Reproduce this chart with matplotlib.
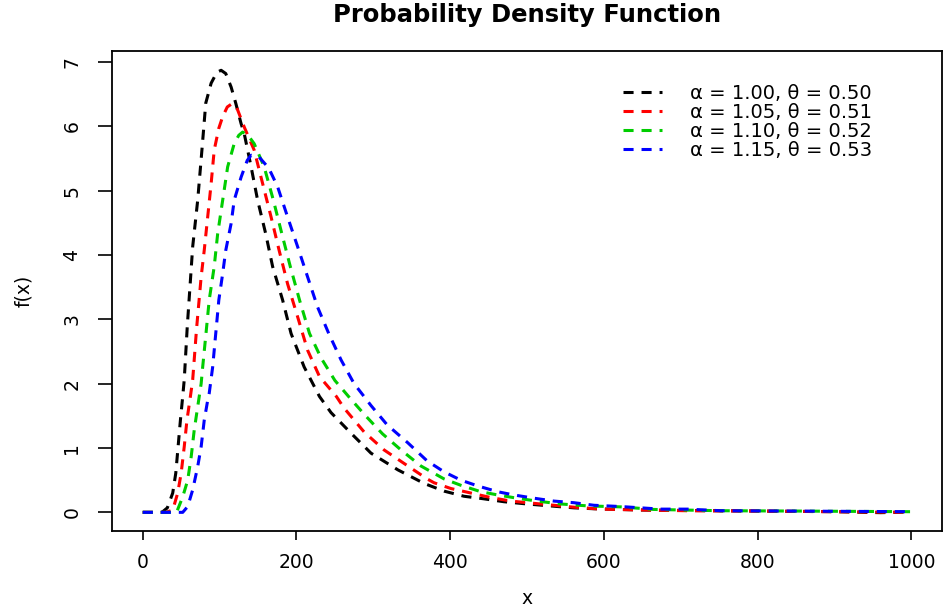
import numpy as np
import matplotlib
matplotlib.use("Agg")
import matplotlib.pyplot as plt

# curve readings (x, f(x)) for each parameter set
bx = [0, 25, 32, 39, 43, 46, 49, 52, 54, 58, 62, 65, 71.5, 77, 82, 89, 96.5, 102, 108, 115, 121, 128,
      132, 141, 149.5, 160, 169, 182, 193, 210, 230, 245, 271, 297, 332, 366, 392, 418, 444, 470,
      500, 530, 561, 587, 648, 700, 800, 900, 960, 1000]
by = [0, 0, 0.07, 0.30, 0.61, 1.02, 1.43, 1.80, 2.06, 2.9, 3.6, 4.13, 4.85, 5.63, 6.36, 6.67, 6.84, 6.87,
      6.82, 6.61, 6.36, 6.04, 5.89, 5.37, 4.85, 4.33, 3.82, 3.30, 2.78, 2.26, 1.80, 1.55, 1.23, 0.92,
      0.66, 0.45, 0.33, 0.25, 0.21, 0.165, 0.13, 0.10, 0.07, 0.056, 0.036, 0.03, 0.02, 0.01, -0.005, 0.005]

rx = [0, 30, 39, 45.5, 50, 54, 57.5, 62, 65, 70, 76, 80, 84.5, 89, 93, 99, 104, 110, 116, 122, 132, 145,
      156, 167, 177.5, 188.5, 201.5, 214.5, 230, 252, 262, 288, 314, 345, 370, 379, 401, 427, 453, 479,
      509, 535, 561, 596, 657, 708, 800, 900, 1000]
ry = [0, 0, 0.035, 0.30, 0.61, 1.02, 1.43, 1.80, 2.06, 2.85, 3.66, 4.07, 4.59, 5.11, 5.63, 5.97, 6.15,
      6.30, 6.35, 6.30, 5.99, 5.63, 5.11, 4.59, 4.07, 3.55, 3.04, 2.52, 2.11, 1.80, 1.62, 1.25, 0.97,
      0.72, 0.52, 0.46, 0.37, 0.30, 0.23, 0.175, 0.14, 0.11, 0.08, 0.05, 0.035, 0.025, 0.02, 0.01, 0.0]

gx = [0, 38, 44, 52, 58.5, 63, 67, 71.5, 76, 78, 82.3, 86.5, 93, 97.5, 104, 110.5, 119, 125, 130, 137,
      145, 158, 170, 181, 192, 204, 217, 232, 250, 270, 290, 312, 336, 362, 392, 414, 440, 462, 487,
      513, 544, 579, 622, 665, 752, 850, 1000]
gy = [0, 0, 0.0, 0.24, 0.50, 0.86, 1.28, 1.64, 2.0, 2.26, 2.78, 3.30, 3.82, 4.33, 4.85, 5.37, 5.73, 5.86,
      5.91, 5.86, 5.73, 5.37, 4.85, 4.33, 3.82, 3.30, 2.78, 2.40, 2.05, 1.77, 1.50, 1.22, 0.97, 0.72,
      0.52, 0.42, 0.32, 0.27, 0.22, 0.175, 0.13, 0.10, 0.085, 0.045, 0.025, 0.02, 0.01]

ux = [0, 45, 52, 58.5, 65, 71.5, 76, 80, 84.5, 86.5, 91, 95, 99, 104, 108, 115, 119, 128, 136, 141,
      151.5, 164, 175.5, 188.5, 201.5, 214.5, 227.5, 242, 258, 275, 288, 297, 318, 345, 370, 392, 414,
      436, 462, 483, 509, 535, 561, 587, 622, 674, 709, 752, 839, 1000]
uy = [0, 0, 0.0, 0.09, 0.35, 0.71, 1.02, 1.43, 1.74, 1.85, 2.26, 2.78, 3.30, 3.71, 4.07, 4.49, 4.85,
      5.21, 5.47, 5.55, 5.52, 5.35, 5.06, 4.59, 4.13, 3.66, 3.19, 2.78, 2.37, 2.0, 1.80, 1.66, 1.36,
      1.08, 0.80, 0.63, 0.50, 0.41, 0.32, 0.27, 0.22, 0.175, 0.15, 0.11, 0.09, 0.05, 0.05, 0.025, 0.02, 0.01]

labels = ["α = 1.00, θ = 0.50", "α = 1.05, θ = 0.51", "α = 1.10, θ = 0.52", "α = 1.15, θ = 0.53"]
cores = ["black", "#FF0000", "#00CD00", "#0000FF"]
series = [(bx, by), (rx, ry), (gx, gy), (ux, uy)]

fig = plt.figure(figsize=(9.46, 6.1), dpi=100)
ax = fig.add_axes([112 / 946, 79 / 610, 830 / 946, 480 / 610])

for (xs, ys), c, lab in zip(series, cores, labels):
    ax.plot(xs, ys, color=c, lw=2.2, linestyle=(0, (3.3, 2.6)), label=lab)

ax.set_xlim(-40, 1040)
ax.set_ylim(-0.29, 7.17)
ax.set_xticks([0, 200, 400, 600, 800, 1000])
ax.set_yticks(range(0, 8))
ax.tick_params(axis="x", length=6.5, width=1.2, pad=9, labelsize=13.5)
ax.tick_params(axis="y", length=10, width=1.2, pad=12, labelsize=13.5, labelrotation=90)
for lbl in ax.get_yticklabels():
    lbl.set_va("center")
for s in ax.spines.values():
    s.set_linewidth(1.3)

fig.text(527 / 946, 1 - 598 / 610, "x", ha="center", va="center", fontsize=13.5)
fig.text(24 / 946, 1 - 291 / 610, "f(x)", ha="center", va="center", fontsize=13.5, rotation=90)
fig.text(527 / 946, 1 - 15 / 610, "Probability Density Function", ha="center", va="center",
         fontsize=17.5, fontweight="bold")

ax.legend(loc="upper left", bbox_to_anchor=((623 - 112) / 830, (531 - 84) / 480), frameon=False,
          fontsize=14, handlelength=2.0, handletextpad=1.45, labelspacing=0.0, borderpad=0,
          borderaxespad=0)

fig.savefig("out.png", dpi=100)
